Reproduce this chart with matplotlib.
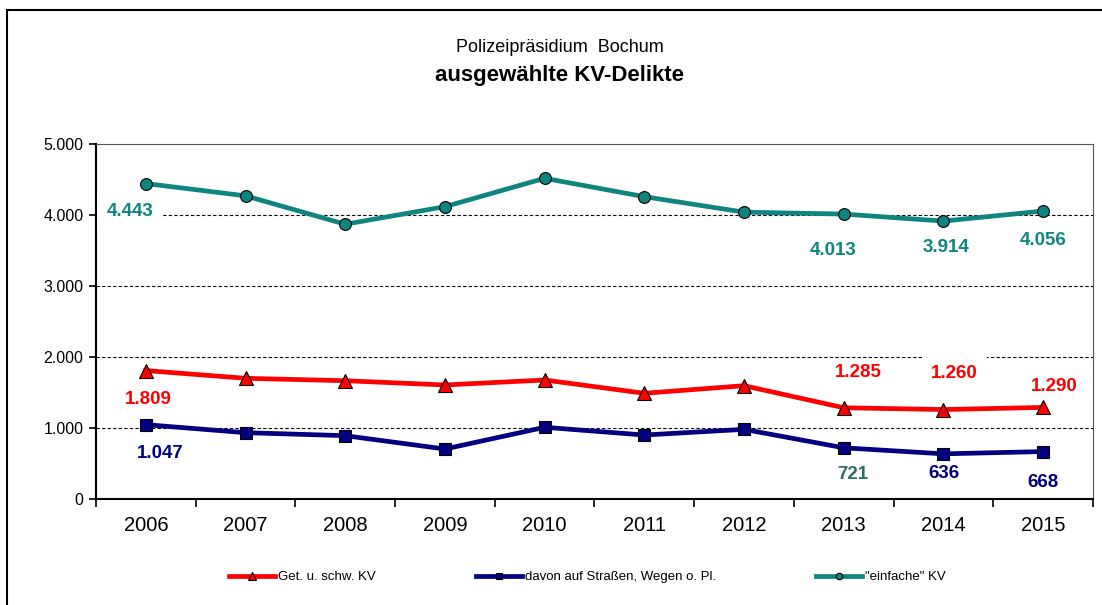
import matplotlib
matplotlib.use('Agg')
import matplotlib.pyplot as plt
import matplotlib.ticker as ticker
from matplotlib.lines import Line2D

plt.rcParams['font.family'] = ['Liberation Sans', 'DejaVu Sans']

# Daten
jahre = ['2006', '2007', '2008', '2009', '2010', '2011', '2012', '2013', '2014', '2015']
gef_schw_kv = [1809, 1700, 1666, 1606, 1676, 1489, 1596, 1285, 1260, 1290]
strassen_kv = [1047, 934, 892, 704, 1010, 901, 981, 721, 636, 668]
einfache_kv = [4443, 4270, 3870, 4117, 4517, 4258, 4040, 4013, 3914, 4056]

serien_namen = ['Get. u. schw. KV', 'davon auf Straßen, Wegen o. Pl.', '"einfache" KV']

ROT = '#ff0000'
BLAU = '#000080'
TEAL = '#0e8580'

fig = plt.figure(figsize=(11.02, 6.05), dpi=100)
ax = fig.add_axes([0.0871, 0.1752, 0.9047, 0.5868])

x = list(range(len(jahre)))
ax.plot(x, gef_schw_kv, color=ROT, lw=3.4, marker='^', ms=9.5,
        mfc=ROT, mec='black', mew=0.8, label=serien_namen[0], zorder=3)
ax.plot(x, strassen_kv, color=BLAU, lw=3.4, marker='s', ms=8.5,
        mfc=BLAU, mec='black', mew=0.8, label=serien_namen[1], zorder=3)
ax.plot(x, einfache_kv, color=TEAL, lw=3.4, marker='o', ms=8.5,
        mfc=TEAL, mec='black', mew=0.8, label=serien_namen[2], zorder=3)

ax.set_xlim(-0.5, len(jahre) - 0.5)
ax.set_ylim(0, 5000)
ax.set_yticks([0, 1000, 2000, 3000, 4000, 5000])
ax.yaxis.set_major_formatter(ticker.FuncFormatter(lambda v, p: f'{int(v):,}'.replace(',', '.')))
ax.set_xticks(x)
ax.set_xticklabels(jahre)
ax.xaxis.set_minor_locator(ticker.FixedLocator([i - 0.5 for i in range(len(jahre) + 1)]))
ax.tick_params(axis='x', which='major', length=0, labelsize=14.5, pad=12)
ax.tick_params(axis='x', which='minor', length=6, width=1.2, direction='out')
ax.tick_params(axis='y', length=5, width=1.2, labelsize=11.5, pad=4)

for v in [1000, 2000, 3000, 4000]:
    ax.axhline(v, color='black', lw=0.8, ls=(0, (3, 2)), zorder=1)

ax.spines['left'].set_linewidth(1.5)
ax.spines['bottom'].set_linewidth(1.5)
ax.spines['top'].set_color('#555555')
ax.spines['right'].set_color('#555555')

# Datenbeschriftungen
labels = [
    (einfache_kv, 0, TEAL, (-16, -28), True),
    (einfache_kv, 7, TEAL, (-11, -36), False),
    (einfache_kv, 8, TEAL, (3, -26), False),
    (einfache_kv, 9, TEAL, (0, -29), False),
    (gef_schw_kv, 0, ROT, (2, -29), False),
    (gef_schw_kv, 7, ROT, (15, 35), False),
    (gef_schw_kv, 8, ROT, (11, 36), True),
    (gef_schw_kv, 9, ROT, (11, 21), False),
    (strassen_kv, 0, BLAU, (14, -29), False),
    (strassen_kv, 7, '#2f6e68', (9, -27), False),
    (strassen_kv, 8, BLAU, (1, -20), False),
    (strassen_kv, 9, BLAU, (0, -31), False),
]
for serie, i, farbe, off, box in labels:
    txt = f'{serie[i]:,}'.replace(',', '.')
    kw = {}
    if box:
        kw['bbox'] = dict(boxstyle='square,pad=0.5', fc='white', ec='none')
    ax.annotate(txt, (i, serie[i]), xytext=off, textcoords='offset pixels',
                ha='center', va='center', color=farbe, fontsize=13.5,
                fontweight='bold', zorder=4, **kw)

fig.text(0.508, 1 - 47 / 605, 'Polizeipräsidium  Bochum', ha='center', va='center', fontsize=13)
fig.text(0.508, 1 - 75 / 605, 'ausgewählte KV-Delikte', ha='center', va='center',
         fontsize=16, fontweight='bold')

fig.legend(loc='center', bbox_to_anchor=(0.533, 1 - 577 / 605), ncol=3, frameon=False,
           fontsize=9.5, handlelength=3.5, columnspacing=7.6, handletextpad=0.2,
           markerscale=0.55)

# Rahmen
fig.add_artist(Line2D([7 / 1102, 7 / 1102], [0, 1 - 10 / 605], color='black', lw=1.5))
fig.add_artist(Line2D([7 / 1102, 1], [1 - 10 / 605, 1 - 10 / 605], color='black', lw=1.5))

fig.savefig('out.png', dpi=100)
